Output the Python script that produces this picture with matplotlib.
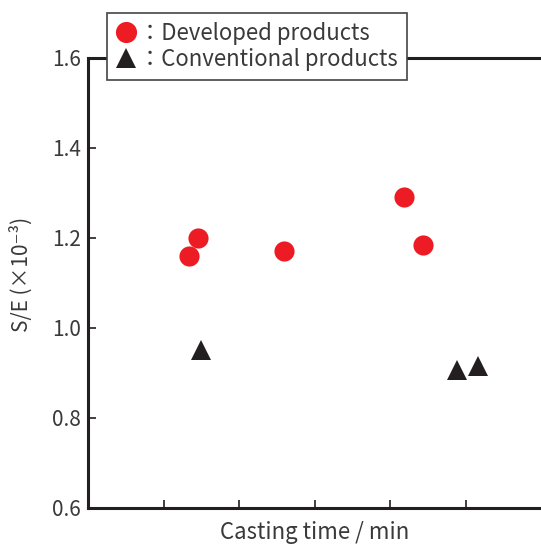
import matplotlib
matplotlib.use("Agg")
import matplotlib.pyplot as plt

plt.rcParams["font.family"] = ["Noto Sans CJK JP", "DejaVu Sans"]

# values (x in tick units, no labels on the x axis)
developed_x = [1.34, 1.46, 2.60, 4.19, 4.44]
developed_y = [1.160, 1.199, 1.172, 1.290, 1.185]
conventional_x = [1.50, 4.89, 5.16]
conventional_y = [0.951, 0.907, 0.916]

y_ticks = [0.6, 0.8, 1.0, 1.2, 1.4, 1.6]
x_ticks = [1, 2, 3, 4, 5]

red = "#ED1C24"
black = "#231F20"
text_color = "#3a3a3a"

fig = plt.figure(figsize=(5.41, 5.47), dpi=100)
ax = fig.add_axes([88 / 541, 39 / 547, 453 / 541, 450 / 547])

ax.plot(developed_x, developed_y, "o", color=red, markersize=14.5,
        markeredgewidth=0, label="：Developed products", clip_on=False)
ax.plot(conventional_x, conventional_y, "^", color=black, markersize=14,
        markeredgewidth=0, label="：Conventional products", clip_on=False)

ax.set_xlim(0, 6)
ax.set_ylim(0.6, 1.6)
ax.set_xticks(x_ticks)
ax.set_xticklabels([])
ax.set_yticks(y_ticks)
ax.set_yticklabels([f"{v:.1f}" for v in y_ticks], fontsize=15, color=text_color)
ax.tick_params(direction="in", length=6, width=1.2, color=black, pad=5)

for side in ["left", "bottom", "top"]:
    ax.spines[side].set_linewidth(2.2)
    ax.spines[side].set_color(black)
ax.spines["right"].set_visible(False)

ax.set_xlabel("Casting time / min", fontsize=16, color=text_color, va="top")
ax.xaxis.set_label_coords(0.5, -0.03)
ax.set_ylabel("S/E (×10⁻³)", fontsize=15, color=text_color, va="center")
ax.yaxis.set_label_coords(-0.148, 0.518)

leg = ax.legend(loc="upper left", bbox_to_anchor=((107 - 88) / 453, 1 + 45 / 450),
                frameon=True, fancybox=False, fontsize=16, handlelength=0.9,
                handletextpad=0.15, borderpad=0.4, labelspacing=0.15,
                borderaxespad=0, markerscale=1.05)
leg.get_frame().set_edgecolor("#444444")
leg.get_frame().set_linewidth(1.2)
leg.get_frame().set_alpha(1)
for t in leg.get_texts():
    t.set_color(text_color)

fig.savefig("out.png", dpi=100)
